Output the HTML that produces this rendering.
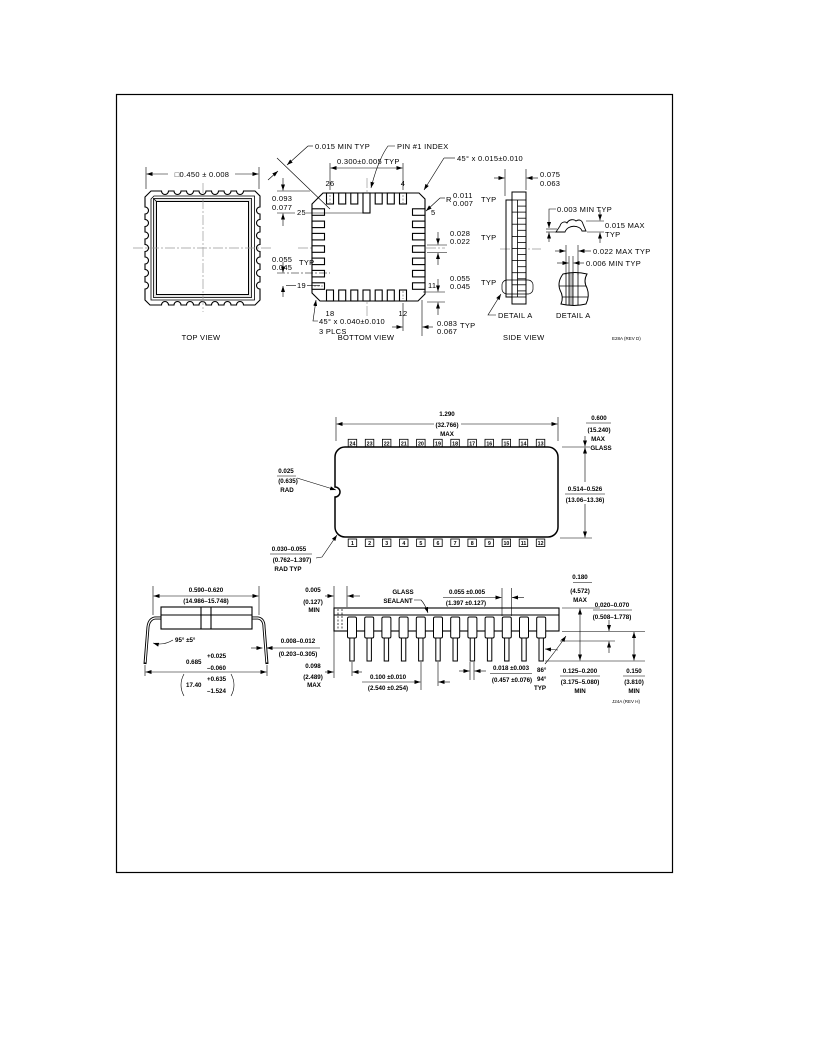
<!DOCTYPE html>
<html><head><meta charset="utf-8"><style>
html,body{margin:0;padding:0;background:#fff;}
svg{display:block}
text{font-family:"Liberation Sans",Arial,sans-serif;fill:#000}
.t{font-size:7.5px;letter-spacing:0.3px}
.b{font-size:6.2px;font-weight:bold}
.p{font-size:5.3px;font-weight:bold}
.s{font-size:4.5px}
.m{text-anchor:middle}
</style></head><body>
<svg width="816" height="1056" viewBox="0 0 816 1056" xmlns="http://www.w3.org/2000/svg">
<defs>
<marker id="a" markerUnits="userSpaceOnUse" markerWidth="6" markerHeight="4" refX="6" refY="2" orient="auto-start-reverse"><path d="M0,0L6,2L0,4z" fill="#000"/></marker>
<clipPath id="dc"><path d="M563,274 Q575,271 587,274 Q583,281 587,288 Q590,296 586,304 Q574,307 561,304 Q564,297 560,290 Q557,282 563,274 Z"/></clipPath>
</defs>
<rect x="116.5" y="94.5" width="556" height="778" fill="none" stroke="#000" stroke-width="1.2"/>

<!-- ============ TOP VIEW ============ -->
<g fill="none" stroke="#000" stroke-width="1.1">
<path d="M145,197 L151,191 L161.5,191 A3.5,3.5 0 0 0 168.5,191 L174,191 A3.5,3.5 0 0 0 181,191 L186.5,191 A3.5,3.5 0 0 0 193.5,191 L199,191 A3.5,3.5 0 0 0 206,191 L211.5,191 A3.5,3.5 0 0 0 218.5,191 L224,191 A3.5,3.5 0 0 0 231,191 L236.5,191 A3.5,3.5 0 0 0 243.5,191 L255,191 L260,196 L260,207 A3.5,3.5 0 0 0 260,214 L260,219.5 A3.5,3.5 0 0 0 260,226.5 L260,232 A3.5,3.5 0 0 0 260,239 L260,244.5 A3.5,3.5 0 0 0 260,251.5 L260,257 A3.5,3.5 0 0 0 260,264 L260,269.5 A3.5,3.5 0 0 0 260,276.5 L260,282 A3.5,3.5 0 0 0 260,289 L260,300 L255,305 L243.5,305 A3.5,3.5 0 0 0 236.5,305 L231,305 A3.5,3.5 0 0 0 224,305 L218.5,305 A3.5,3.5 0 0 0 211.5,305 L206,305 A3.5,3.5 0 0 0 199,305 L193.5,305 A3.5,3.5 0 0 0 186.5,305 L181,305 A3.5,3.5 0 0 0 174,305 L168.5,305 A3.5,3.5 0 0 0 161.5,305 L150,305 L145,300 L145,289 A3.5,3.5 0 0 0 145,282 L145,276.5 A3.5,3.5 0 0 0 145,269.5 L145,264 A3.5,3.5 0 0 0 145,257 L145,251.5 A3.5,3.5 0 0 0 145,244.5 L145,239 A3.5,3.5 0 0 0 145,232 L145,226.5 A3.5,3.5 0 0 0 145,219.5 L145,214 A3.5,3.5 0 0 0 145,207 Z"/>
<rect x="153.5" y="198.5" width="98" height="99" fill="#e4e4e4" stroke="none"/>
<path d="M151,199 L154,196 L254.5,196 L254.5,300 L151,300 Z" stroke-width="0.8"/>
<rect x="153.5" y="198.5" width="98" height="99" stroke-width="0.8"/>
<rect x="156.5" y="201.5" width="92" height="93" fill="#fff" stroke-width="1"/>
<line x1="153.5" y1="198.5" x2="156.5" y2="201.5" stroke-width="0.8"/>
</g>
<g stroke="#999" stroke-width="0.7" stroke-dasharray="10 2 2 2" fill="none">
<line x1="133" y1="248" x2="272" y2="248"/>
<line x1="298" y1="248" x2="445" y2="248"/>
<line x1="203" y1="183" x2="203" y2="312"/>
<line x1="367" y1="178" x2="367" y2="316"/>
<line x1="500" y1="249" x2="541" y2="249"/>
</g>
<g stroke="#000" stroke-width="0.6" fill="none">
<line x1="146" y1="167" x2="146" y2="189"/>
<line x1="259" y1="167" x2="259" y2="189"/>
<line x1="168" y1="174" x2="146.5" y2="174" marker-end="url(#a)"/>
<line x1="235" y1="174" x2="258.5" y2="174" marker-end="url(#a)"/>
</g>
<text class="t m" x="202" y="177">□0.450 ± 0.008</text>
<text class="t m" x="201" y="340">TOP VIEW</text>

<!-- ============ BOTTOM VIEW ============ -->
<g fill="#fff" stroke="#000" stroke-width="1.1">
<path d="M312,204 L323,193 L419,193 L425,199 L425,294 L418,301 L320,301 L312,293 Z"/>
<rect x="326.5" y="193" width="7" height="11"/>
<rect x="338.7" y="193" width="7" height="11"/>
<rect x="350.8" y="193" width="7" height="11"/>
<rect x="363" y="193" width="7" height="20"/>
<rect x="375.2" y="193" width="7" height="11"/>
<rect x="387.3" y="193" width="7" height="11"/>
<rect x="399.5" y="193" width="7" height="11"/>
<rect x="326.5" y="290" width="7" height="11"/>
<rect x="338.7" y="290" width="7" height="11"/>
<rect x="350.8" y="290" width="7" height="11"/>
<rect x="363" y="290" width="7" height="11"/>
<rect x="375.2" y="290" width="7" height="11"/>
<rect x="387.3" y="290" width="7" height="11"/>
<rect x="399.5" y="290" width="7" height="11"/>
<rect x="312" y="208.8" width="12.5" height="6.5"/>
<rect x="312" y="221.1" width="12.5" height="6.5"/>
<rect x="312" y="233.4" width="12.5" height="6.5"/>
<rect x="312" y="245.8" width="12.5" height="6.5"/>
<rect x="312" y="258.1" width="12.5" height="6.5"/>
<rect x="312" y="270.4" width="12.5" height="6.5"/>
<rect x="312" y="282.8" width="12.5" height="6.5"/>
<rect x="412.5" y="208.8" width="12.5" height="6.5"/>
<rect x="412.5" y="221.1" width="12.5" height="6.5"/>
<rect x="412.5" y="233.4" width="12.5" height="6.5"/>
<rect x="412.5" y="245.8" width="12.5" height="6.5"/>
<rect x="412.5" y="258.1" width="12.5" height="6.5"/>
<rect x="412.5" y="270.4" width="12.5" height="6.5"/>
<rect x="412.5" y="282.8" width="12.5" height="6.5"/>
</g>
<g stroke="#999" stroke-width="1" stroke-dasharray="2 1.5">
<line x1="330" y1="195" x2="330" y2="203"/>
<line x1="403" y1="195" x2="403" y2="203"/>
<line x1="403" y1="291" x2="403" y2="299"/>
<line x1="314" y1="286" x2="323" y2="286"/>
</g>
<g stroke="#000" stroke-width="0.6" fill="none">
<line x1="330" y1="163" x2="330" y2="190"/>
<line x1="403" y1="163" x2="403" y2="190"/>
<line x1="330.5" y1="168" x2="402.5" y2="168" marker-start="url(#a)" marker-end="url(#a)"/>
<line x1="313" y1="146" x2="308" y2="146"/>
<line x1="308" y1="146" x2="287" y2="165" marker-end="url(#a)"/>
<line x1="277" y1="158" x2="330" y2="209"/>
<line x1="268" y1="180" x2="278" y2="171" marker-end="url(#a)"/>
<path d="M395,146 L388,146 Q378,160 371,188" marker-end="url(#a)"/>
<line x1="455" y1="158" x2="444" y2="158"/>
<line x1="444" y1="158" x2="424" y2="190" marker-end="url(#a)"/>
<line x1="277" y1="191" x2="310" y2="191"/>
<line x1="277" y1="213" x2="295" y2="213"/>
<line x1="306" y1="213" x2="363" y2="213"/>
<line x1="283" y1="178" x2="283" y2="190.5" marker-end="url(#a)"/>
<line x1="283" y1="226" x2="283" y2="213.5" marker-end="url(#a)"/>
<line x1="445" y1="198" x2="440" y2="198"/>
<line x1="440" y1="198" x2="426" y2="211" marker-end="url(#a)"/>
<line x1="427" y1="245" x2="447" y2="245"/>
<line x1="427" y1="252.5" x2="447" y2="252.5"/>
<line x1="438" y1="232" x2="438" y2="244.5" marker-end="url(#a)"/>
<line x1="438" y1="265" x2="438" y2="253" marker-end="url(#a)"/>
<line x1="423" y1="292" x2="445" y2="292"/>
<line x1="427" y1="302" x2="445" y2="302"/>
<line x1="438" y1="279" x2="438" y2="291.5" marker-end="url(#a)"/>
<line x1="438" y1="315" x2="438" y2="302.5" marker-end="url(#a)"/>
<line x1="277" y1="273" x2="330" y2="273" stroke-dasharray="8 2 2 2"/>
<line x1="286" y1="285.5" x2="296" y2="285.5"/>
<line x1="307" y1="285.5" x2="320" y2="285.5"/>
<line x1="283" y1="262" x2="283" y2="272.5" marker-end="url(#a)"/>
<line x1="283" y1="297" x2="283" y2="286" marker-end="url(#a)"/>
<path d="M318,321 L313,321 L316,300" marker-end="url(#a)"/>
<line x1="403" y1="303" x2="403" y2="331"/>
<line x1="422" y1="300" x2="422" y2="336"/>
<line x1="392" y1="327" x2="402.5" y2="327" marker-end="url(#a)"/>
<line x1="433" y1="327" x2="422.5" y2="327" marker-end="url(#a)"/>
</g>
<text class="t" x="315" y="149">0.015 MIN TYP</text>
<text class="t" x="397" y="149">PIN #1 INDEX</text>
<text class="t" x="337" y="164">0.300±0.005 TYP</text>
<text class="t" x="457" y="161">45° x 0.015±0.010</text>
<text class="t m" x="330" y="186">26</text>
<text class="t m" x="403" y="186">4</text>
<text class="t" x="272" y="201">0.093</text>
<text class="t" x="272" y="210">0.077</text>
<text class="t" x="297" y="215">25</text>
<text class="t" x="446" y="202">R</text>
<text class="t" x="453" y="198">0.011</text>
<text class="t" x="453" y="206">0.007</text>
<text class="t" x="481" y="202">TYP</text>
<text class="t" x="431" y="215">5</text>
<text class="t" x="450" y="236">0.028</text>
<text class="t" x="450" y="244">0.022</text>
<text class="t" x="481" y="240">TYP</text>
<text class="t" x="450" y="281">0.055</text>
<text class="t" x="450" y="289">0.045</text>
<text class="t" x="481" y="285">TYP</text>
<text class="t" x="428" y="288">11</text>
<text class="t" x="272" y="262">0.055</text>
<text class="t" x="272" y="270">0.045</text>
<text class="t" x="299" y="265">TYP</text>
<text class="t" x="297" y="288">19</text>
<text class="t m" x="330" y="316">18</text>
<text class="t m" x="403" y="316">12</text>
<text class="t" x="319" y="324">45° x 0.040±0.010</text>
<text class="t" x="319" y="334">3 PLCS</text>
<text class="t m" x="366" y="340">BOTTOM VIEW</text>
<text class="t" x="437" y="326">0.083</text>
<text class="t" x="437" y="334">0.067</text>
<text class="t" x="460" y="328">TYP</text>

<!-- ============ SIDE VIEW ============ -->
<g fill="none" stroke="#000" stroke-width="1">
<rect x="512" y="192" width="14" height="112" fill="#fff"/>
<polyline points="512,200 506,200 506,297 512,297"/>
<line x1="517.5" y1="200" x2="517.5" y2="297" stroke-width="0.8"/>
</g>
<g stroke="#000" stroke-width="0.8">
<line x1="512" y1="200" x2="526" y2="200"/>
<line x1="517.5" y1="206.1" x2="526" y2="206.1"/>
<line x1="512" y1="212.1" x2="526" y2="212.1"/>
<line x1="517.5" y1="218.2" x2="526" y2="218.2"/>
<line x1="512" y1="224.2" x2="526" y2="224.2"/>
<line x1="517.5" y1="230.3" x2="526" y2="230.3"/>
<line x1="512" y1="236.4" x2="526" y2="236.4"/>
<line x1="517.5" y1="242.4" x2="526" y2="242.4"/>
<line x1="512" y1="248.5" x2="526" y2="248.5"/>
<line x1="517.5" y1="254.5" x2="526" y2="254.5"/>
<line x1="512" y1="260.6" x2="526" y2="260.6"/>
<line x1="517.5" y1="266.7" x2="526" y2="266.7"/>
<line x1="512" y1="272.7" x2="526" y2="272.7"/>
<line x1="517.5" y1="278.8" x2="526" y2="278.8"/>
<line x1="512" y1="284.8" x2="526" y2="284.8"/>
<line x1="517.5" y1="290.9" x2="526" y2="290.9"/>
<line x1="512" y1="297" x2="526" y2="297"/>
</g>
<rect x="502" y="280" width="31" height="14" rx="5" fill="none" stroke="#000" stroke-width="0.7"/>
<g stroke="#000" stroke-width="0.6" fill="none">
<line x1="505" y1="169" x2="505" y2="196"/>
<line x1="526" y1="169" x2="526" y2="190"/>
<line x1="494" y1="178" x2="504.5" y2="178" marker-end="url(#a)"/>
<line x1="538" y1="178" x2="526.5" y2="178" marker-end="url(#a)"/>
<path d="M496,315 L488,315 L501,294" marker-end="url(#a)"/>
</g>
<text class="t" x="540" y="177">0.075</text>
<text class="t" x="540" y="186">0.063</text>
<text class="t" x="498" y="318">DETAIL A</text>
<text class="t" x="556" y="318">DETAIL A</text>
<text class="t" x="503" y="340">SIDE VIEW</text>
<text class="s" x="612" y="340">E28A (REV D)</text>

<!-- Detail A top -->
<path d="M556,232 L560,226 C561,222 565,221 567,223 C569,219 574,219 576,221 C579,219 582,220 583,224 L586,231 L582,231 C580,225 568,224 565,232 Z" fill="none" stroke="#000" stroke-width="0.9"/>
<g stroke="#000" stroke-width="0.6" fill="none">
<line x1="546" y1="229" x2="557" y2="229"/>
<line x1="546" y1="232" x2="557" y2="232"/>
<path d="M556,209 L549,209 L549,228" marker-end="url(#a)"/>
<line x1="549" y1="242" x2="549" y2="232.5" marker-end="url(#a)"/>
<line x1="586" y1="221" x2="604" y2="221"/>
<line x1="587" y1="232" x2="604" y2="232"/>
<line x1="600" y1="210" x2="600" y2="220.5" marker-end="url(#a)"/>
<line x1="600" y1="243" x2="600" y2="232.5" marker-end="url(#a)"/>
<line x1="566" y1="245" x2="566" y2="275"/>
<line x1="578" y1="245" x2="578" y2="275"/>
<line x1="555" y1="251" x2="565.5" y2="251" marker-end="url(#a)"/>
<line x1="591" y1="251" x2="578.5" y2="251" marker-end="url(#a)"/>
<line x1="569" y1="256" x2="569" y2="275"/>
<line x1="573" y1="256" x2="573" y2="275"/>
<line x1="557" y1="263" x2="568.5" y2="263" marker-end="url(#a)"/>
<line x1="584" y1="263" x2="573.5" y2="263" marker-end="url(#a)"/>
</g>
<g clip-path="url(#dc)">
<rect x="569" y="270" width="4" height="40" fill="#bbb"/>
<g stroke="#000" stroke-width="0.8">
<line x1="566" y1="270" x2="566" y2="310"/>
<line x1="569" y1="270" x2="569" y2="310"/>
<line x1="573" y1="270" x2="573" y2="310"/>
<line x1="578" y1="270" x2="578" y2="310"/>
<line x1="555" y1="286" x2="592" y2="286"/>
<line x1="555" y1="297" x2="592" y2="297"/>
</g>
</g>
<path d="M563,274 Q575,271 587,274 Q583,281 587,288 Q590,296 586,304 Q574,307 561,304 Q564,297 560,290 Q557,282 563,274 Z" fill="none" stroke="#000" stroke-width="1"/>
<text class="t" x="557" y="212">0.003 MIN TYP</text>
<text class="t" x="605" y="228">0.015 MAX</text>
<text class="t" x="605" y="237">TYP</text>
<text class="t" x="593" y="254">0.022 MAX TYP</text>
<text class="t" x="586" y="266">0.006 MIN TYP</text>

<!-- ============ DIP TOP VIEW ============ -->
<path d="M345,447 H548 A10,10 0 0 1 558,457 V527 A10,10 0 0 1 548,537 H345 A10,10 0 0 1 335,527 V497 A5,5 0 0 0 335,487 V457 A10,10 0 0 1 345,447 Z" fill="none" stroke="#000" stroke-width="1.5"/>
<g fill="none" stroke="#000" stroke-width="0.8">
<rect x="348.2" y="439.3" width="8.5" height="7.5"/>
<rect x="365.3" y="439.3" width="8.5" height="7.5"/>
<rect x="382.4" y="439.3" width="8.5" height="7.5"/>
<rect x="399.5" y="439.3" width="8.5" height="7.5"/>
<rect x="416.6" y="439.3" width="8.5" height="7.5"/>
<rect x="433.7" y="439.3" width="8.5" height="7.5"/>
<rect x="450.8" y="439.3" width="8.5" height="7.5"/>
<rect x="467.9" y="439.3" width="8.5" height="7.5"/>
<rect x="485" y="439.3" width="8.5" height="7.5"/>
<rect x="502.1" y="439.3" width="8.5" height="7.5"/>
<rect x="519.2" y="439.3" width="8.5" height="7.5"/>
<rect x="536.3" y="439.3" width="8.5" height="7.5"/>
<rect x="348.2" y="539" width="8.5" height="7.5"/>
<rect x="365.3" y="539" width="8.5" height="7.5"/>
<rect x="382.4" y="539" width="8.5" height="7.5"/>
<rect x="399.5" y="539" width="8.5" height="7.5"/>
<rect x="416.6" y="539" width="8.5" height="7.5"/>
<rect x="433.7" y="539" width="8.5" height="7.5"/>
<rect x="450.8" y="539" width="8.5" height="7.5"/>
<rect x="467.9" y="539" width="8.5" height="7.5"/>
<rect x="485" y="539" width="8.5" height="7.5"/>
<rect x="502.1" y="539" width="8.5" height="7.5"/>
<rect x="519.2" y="539" width="8.5" height="7.5"/>
<rect x="536.3" y="539" width="8.5" height="7.5"/>
</g>
<text class="p m" x="352.5" y="445.3">24</text>
<text class="p m" x="369.6" y="445.3">23</text>
<text class="p m" x="386.7" y="445.3">22</text>
<text class="p m" x="403.8" y="445.3">21</text>
<text class="p m" x="420.9" y="445.3">20</text>
<text class="p m" x="438" y="445.3">19</text>
<text class="p m" x="455.1" y="445.3">18</text>
<text class="p m" x="472.2" y="445.3">17</text>
<text class="p m" x="489.3" y="445.3">16</text>
<text class="p m" x="506.4" y="445.3">15</text>
<text class="p m" x="523.5" y="445.3">14</text>
<text class="p m" x="540.6" y="445.3">13</text>
<text class="p m" x="352.5" y="545">1</text>
<text class="p m" x="369.6" y="545">2</text>
<text class="p m" x="386.7" y="545">3</text>
<text class="p m" x="403.8" y="545">4</text>
<text class="p m" x="420.9" y="545">5</text>
<text class="p m" x="438" y="545">6</text>
<text class="p m" x="455.1" y="545">7</text>
<text class="p m" x="472.2" y="545">8</text>
<text class="p m" x="489.3" y="545">9</text>
<text class="p m" x="506.4" y="545">10</text>
<text class="p m" x="523.5" y="545">11</text>
<text class="p m" x="540.6" y="545">12</text>
<g stroke="#000" stroke-width="0.6" fill="none">
<line x1="336" y1="417" x2="336" y2="441"/>
<line x1="558" y1="417" x2="558" y2="441"/>
<line x1="434" y1="424" x2="336.5" y2="424" marker-end="url(#a)"/>
<line x1="461" y1="424" x2="557.5" y2="424" marker-end="url(#a)"/>
<line x1="562" y1="447" x2="590" y2="447"/>
<line x1="560" y1="538" x2="592" y2="538"/>
<line x1="585" y1="436" x2="585" y2="446.5" marker-end="url(#a)"/>
<line x1="585" y1="482" x2="585" y2="447.5" marker-end="url(#a)"/>
<line x1="585" y1="504" x2="585" y2="537.5" marker-end="url(#a)"/>
<line x1="586" y1="423" x2="611" y2="423"/>
<line x1="565" y1="494" x2="605" y2="494"/>
<line x1="277" y1="476" x2="296" y2="476"/>
<path d="M297,478 L336,490" marker-end="url(#a)"/>
<line x1="270" y1="554" x2="312" y2="554"/>
<path d="M316,558 L322,557 L337,535" marker-end="url(#a)"/>
</g>
<text class="b m" x="447" y="416">1.290</text>
<text class="b m" x="447" y="427">(32.766)</text>
<text class="b m" x="447" y="436">MAX</text>
<text class="b m" x="599" y="420">0.600</text>
<text class="b m" x="599" y="432">(15.240)</text>
<text class="b m" x="598" y="441">MAX</text>
<text class="b m" x="601" y="450">GLASS</text>
<text class="b m" x="585" y="491">0.514–0.526</text>
<text class="b m" x="585" y="502">(13.06–13.36)</text>
<text class="b m" x="286" y="473">0.025</text>
<text class="b m" x="288" y="483">(0.635)</text>
<text class="b m" x="287" y="492">RAD</text>
<text class="b m" x="289" y="551">0.030–0.055</text>
<text class="b m" x="292" y="562">(0.762–1.397)</text>
<text class="b m" x="288" y="571">RAD TYP</text>

<!-- ============ END VIEW (bottom left) ============ -->
<path d="M161,618 L155,618 Q149,619 148,627 L145,664" fill="none" stroke="#000" stroke-width="3"/>
<path d="M161,618 L155,618 Q149,619 148,627 L145.2,662.5" fill="none" stroke="#fff" stroke-width="1.2"/>
<path d="M252,618 L258,618 Q264,619 264,627 L267,664" fill="none" stroke="#000" stroke-width="3"/>
<path d="M252,618 L258,618 Q264,619 264,627 L266.8,662.5" fill="none" stroke="#fff" stroke-width="1.2"/>
<g fill="none" stroke="#000" stroke-width="1.1">
<rect x="161" y="607" width="91" height="22" fill="#fff"/>
<line x1="161" y1="615" x2="252" y2="615"/>
<line x1="201" y1="607" x2="201" y2="629"/>
<line x1="211" y1="607" x2="211" y2="629"/>
</g>
<g stroke="#000" stroke-width="0.6" fill="none">
<line x1="153" y1="586" x2="153" y2="615"/>
<line x1="259" y1="586" x2="259" y2="615"/>
<line x1="153.5" y1="596" x2="258.5" y2="596" marker-start="url(#a)" marker-end="url(#a)"/>
<path d="M173,640 Q163,646 153,643" marker-end="url(#a)"/>
<line x1="251" y1="648" x2="262.5" y2="648" marker-end="url(#a)"/>
<line x1="320" y1="648" x2="266.5" y2="648" marker-end="url(#a)"/>
<line x1="145" y1="665" x2="145" y2="676"/>
<line x1="267" y1="665" x2="267" y2="676"/>
<line x1="145.5" y1="672" x2="266.5" y2="672" marker-start="url(#a)" marker-end="url(#a)"/>
<path d="M184,674 Q178,685 184,696"/>
<path d="M231,674 Q237,685 231,696"/>
</g>
<text class="b m" x="206" y="592">0.590–0.620</text>
<text class="b m" x="206" y="603">(14.986–15.748)</text>
<text class="b" x="175" y="642">95° ±5°</text>
<text class="b m" x="298" y="643">0.008–0.012</text>
<text class="b m" x="298" y="656">(0.203–0.305)</text>
<text class="b" x="186" y="664">0.685</text>
<text class="b" x="207" y="658">+0.025</text>
<text class="b" x="207" y="670">–0.060</text>
<text class="b" x="186" y="687">17.40</text>
<text class="b" x="207" y="681">+0.635</text>
<text class="b" x="207" y="693">–1.524</text>
<text class="b m" x="313" y="592">0.005</text>
<text class="b m" x="313" y="604">(0.127)</text>
<text class="b m" x="314" y="612">MIN</text>
<text class="b m" x="313" y="668">0.098</text>
<text class="b m" x="313" y="679">(2.489)</text>
<text class="b m" x="314" y="687">MAX</text>

<!-- ============ SIDE VIEW (bottom right) ============ -->
<g stroke="#000" stroke-width="1.1" fill="#fff">
<rect x="334" y="608" width="225" height="23"/>
<line x1="334" y1="615" x2="559" y2="615"/>
</g>
<g stroke="#000" stroke-width="0.7" stroke-dasharray="2 1.5">
<line x1="338" y1="609" x2="338" y2="630"/>
<line x1="342" y1="609" x2="342" y2="630"/>
</g>
<g stroke="#000" stroke-width="1" fill="#fff">
<rect x="349.8" y="638" width="4.4" height="23"/><rect x="347.5" y="617" width="9" height="21" rx="1.5"/>
<rect x="367" y="638" width="4.4" height="23"/><rect x="364.7" y="617" width="9" height="21" rx="1.5"/>
<rect x="384.2" y="638" width="4.4" height="23"/><rect x="381.9" y="617" width="9" height="21" rx="1.5"/>
<rect x="401.4" y="638" width="4.4" height="23"/><rect x="399.1" y="617" width="9" height="21" rx="1.5"/>
<rect x="418.6" y="638" width="4.4" height="23"/><rect x="416.3" y="617" width="9" height="21" rx="1.5"/>
<rect x="435.8" y="638" width="4.4" height="23"/><rect x="433.5" y="617" width="9" height="21" rx="1.5"/>
<rect x="453" y="638" width="4.4" height="23"/><rect x="450.7" y="617" width="9" height="21" rx="1.5"/>
<rect x="470.2" y="638" width="4.4" height="23"/><rect x="467.9" y="617" width="9" height="21" rx="1.5"/>
<rect x="487.4" y="638" width="4.4" height="23"/><rect x="485.1" y="617" width="9" height="21" rx="1.5"/>
<rect x="504.6" y="638" width="4.4" height="23"/><rect x="502.3" y="617" width="9" height="21" rx="1.5"/>
<rect x="521.8" y="638" width="4.4" height="23"/><rect x="519.5" y="617" width="9" height="21" rx="1.5"/>
<rect x="539" y="638" width="4.4" height="23"/><rect x="536.7" y="617" width="9" height="21" rx="1.5"/>
</g>
<g stroke="#000" stroke-width="0.6" fill="none">
<line x1="334" y1="586" x2="334" y2="678"/>
<line x1="347" y1="586" x2="347" y2="607"/>
<line x1="325" y1="596" x2="333.5" y2="596" marker-end="url(#a)"/>
<line x1="360" y1="596" x2="347.5" y2="596" marker-end="url(#a)"/>
<line x1="325" y1="672" x2="333.5" y2="672" marker-end="url(#a)"/>
<line x1="352" y1="662" x2="352" y2="676"/>
<line x1="362" y1="672" x2="352.5" y2="672" marker-end="url(#a)"/>
<path d="M414,600 L421,600 Q425,604 428,613" marker-end="url(#a)"/>
<line x1="502" y1="588" x2="502" y2="616"/>
<line x1="511.5" y1="588" x2="511.5" y2="616"/>
<line x1="443" y1="597.5" x2="501.5" y2="597.5" marker-end="url(#a)"/>
<line x1="524" y1="597.5" x2="512" y2="597.5" marker-end="url(#a)"/>
<line x1="573" y1="582.5" x2="592" y2="582.5"/>
<line x1="562" y1="608" x2="600" y2="608"/>
<line x1="562" y1="631.5" x2="645" y2="631.5"/>
<line x1="560" y1="641" x2="615" y2="641"/>
<line x1="545" y1="661" x2="645" y2="661"/>
<line x1="580" y1="608.5" x2="580" y2="660.5" marker-start="url(#a)" marker-end="url(#a)"/>
<line x1="609" y1="620" x2="609" y2="631" marker-end="url(#a)"/>
<line x1="609" y1="653" x2="609" y2="641.5" marker-end="url(#a)"/>
<line x1="634" y1="632" x2="634" y2="660.5" marker-start="url(#a)" marker-end="url(#a)"/>
<line x1="593" y1="610" x2="632" y2="610"/>
<line x1="560" y1="676" x2="600" y2="676"/>
<line x1="623" y1="676" x2="645" y2="676"/>
<path d="M545,664 Q555,652 566,636" marker-end="url(#a)"/>
<line x1="558" y1="650" x2="545" y2="649" marker-end="url(#a)"/>
<line x1="421" y1="662" x2="421" y2="690"/>
<line x1="438" y1="662" x2="438" y2="686"/>
<line x1="362" y1="682" x2="420.5" y2="682" marker-end="url(#a)"/>
<line x1="450" y1="682" x2="438.5" y2="682" marker-end="url(#a)"/>
<line x1="470" y1="662" x2="470" y2="680"/>
<line x1="474" y1="662" x2="474" y2="680"/>
<line x1="459" y1="671" x2="469.5" y2="671" marker-end="url(#a)"/>
<line x1="486" y1="671" x2="474.5" y2="671" marker-end="url(#a)"/>
<line x1="490" y1="673.5" x2="532" y2="673.5"/>
</g>
<text class="b m" x="403" y="594">GLASS</text>
<text class="b m" x="398" y="603">SEALANT</text>
<text class="b m" x="467" y="594">0.055 ±0.005</text>
<text class="b m" x="466" y="605">(1.397 ±0.127)</text>
<text class="b m" x="580" y="579">0.180</text>
<text class="b m" x="580" y="593">(4.572)</text>
<text class="b m" x="580" y="602">MAX</text>
<text class="b m" x="612" y="607">0.020–0.070</text>
<text class="b m" x="612" y="619">(0.508–1.778)</text>
<text class="b" x="537" y="672">86°</text>
<text class="b" x="537" y="681">94°</text>
<text class="b" x="534" y="690">TYP</text>
<text class="b m" x="580" y="673">0.125–0.200</text>
<text class="b m" x="580" y="684">(3.175–5.080)</text>
<text class="b m" x="580" y="693">MIN</text>
<text class="b m" x="634" y="673">0.150</text>
<text class="b m" x="634" y="684">(3.810)</text>
<text class="b m" x="634" y="693">MIN</text>
<text class="b m" x="388" y="679">0.100 ±0.010</text>
<text class="b m" x="388" y="690">(2.540 ±0.254)</text>
<text class="b m" x="511" y="670">0.018 ±0.003</text>
<text class="b m" x="512" y="682">(0.457 ±0.076)</text>
<text class="s" x="612" y="703">J24A (REV H)</text>
</svg>
</body></html>
